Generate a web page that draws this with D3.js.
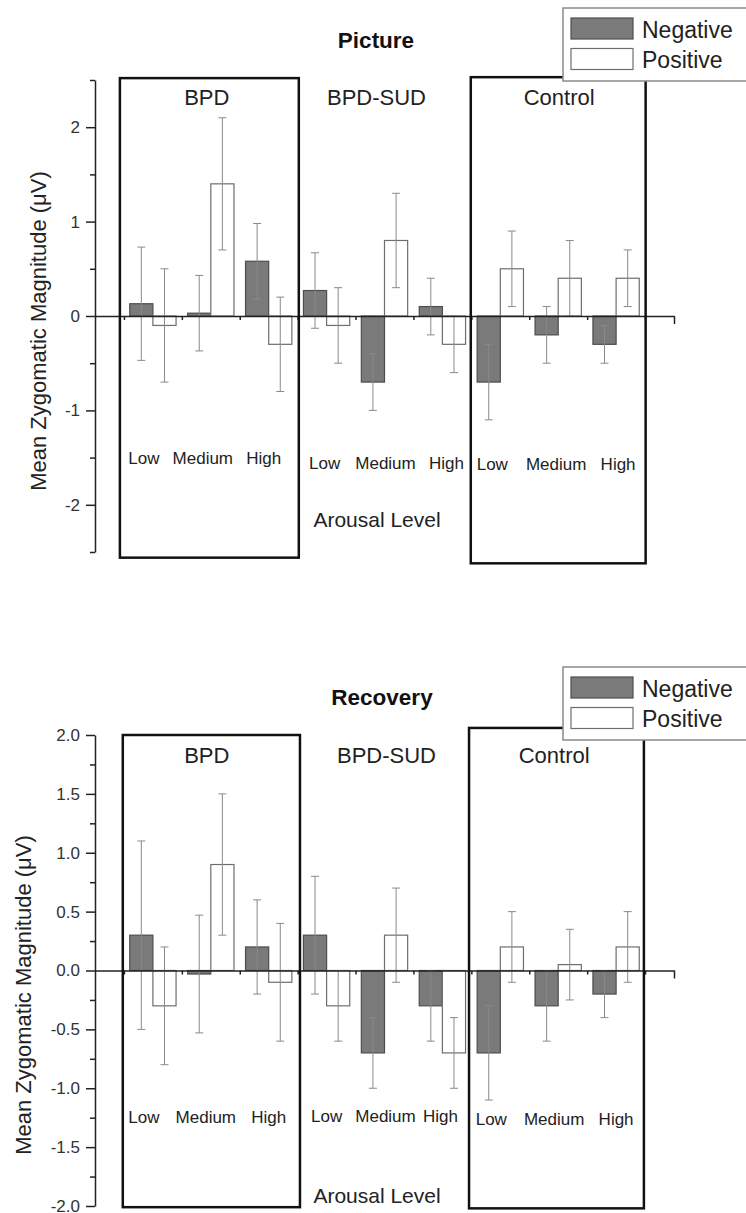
<!DOCTYPE html>
<html>
<head>
<meta charset="utf-8">
<script src="https://cdn.jsdelivr.net/npm/d3@7"></script>
<style>
  body { margin: 0; background: #fff; }
  svg { display: block; font-family: "Liberation Sans", Arial, sans-serif; }
</style>
</head>
<body>
<svg width="746" height="1213"></svg>
<script>
const groups = ['BPD', 'BPD-SUD', 'Control']
const levels = ['Low', 'Medium', 'High']
const seriesNames = ['Negative', 'Positive']

// 9 values each: BPD low/med/high, BPD-SUD low/med/high, Control low/med/high
const pictureNeg = [0.13, 0.03, 0.58, 0.27, -0.70, 0.10, -0.70, -0.20, -0.30]
const picturePos = [-0.10, 1.40, -0.30, -0.10, 0.80, -0.30, 0.50, 0.40, 0.40]
const pictureNegErr = [0.60, 0.40, 0.40, 0.40, 0.30, 0.30, 0.40, 0.30, 0.20]
const picturePosErr = [0.60, 0.70, 0.50, 0.40, 0.50, 0.30, 0.40, 0.40, 0.30]

const recoveryNeg = [0.30, -0.03, 0.20, 0.30, -0.70, -0.30, -0.70, -0.30, -0.20]
const recoveryPos = [-0.30, 0.90, -0.10, -0.30, 0.30, -0.70, 0.20, 0.05, 0.20]
const recoveryNegErr = [0.80, 0.50, 0.40, 0.50, 0.30, 0.30, 0.40, 0.30, 0.20]
const recoveryPosErr = [0.50, 0.60, 0.50, 0.30, 0.40, 0.30, 0.30, 0.30, 0.30]

const pictureTicks = [-2, -1, 0, 1, 2]
const pictureMinor = [-2.5, -1.5, -0.5, 0.5, 1.5, 2.5]
const recoveryTicks = [-2, -1.5, -1, -0.5, 0, 0.5, 1, 1.5, 2]
const recoveryMinor = [-1.75, -1.25, -0.75, -0.25, 0.25, 0.75, 1.25, 1.75]

const svg = d3.select('svg')

const fill = d3.scaleOrdinal().domain(seriesNames).range(['#7a7a7a', '#ffffff'])
const edge = d3.scaleOrdinal().domain(seriesNames).range(['#4d4d4d', '#6e6e6e'])

// categories sit at 1..9, axis runs 0..10
const x = d3.scaleLinear().domain([0, 10]).range([95, 674])
const barW = 0.4

const panel = (opts) => {
    const y = d3.scaleLinear().domain(opts.domain).range(opts.range)
    const g = svg.append('g')

    const bars = []
    d3.range(9).forEach(i => {
        bars.push({ c: i + 1, s: 'Negative', v: opts.neg[i], e: opts.negErr[i] })
        bars.push({ c: i + 1, s: 'Positive', v: opts.pos[i], e: opts.posErr[i] })
    })
    const left = d => d.s === 'Negative' ? d.c - barW : d.c

    g.selectAll('rect.bar')
        .data(bars)
        .enter()
        .append('rect')
        .attr('class', 'bar')
        .attr('x', d => x(left(d)))
        .attr('width', x(barW) - x(0))
        .attr('y', d => y(Math.max(0, d.v)))
        .attr('height', d => Math.abs(y(d.v) - y(0)))
        .attr('fill', d => fill(d.s))
        .attr('stroke', d => edge(d.s))
        .attr('stroke-width', 1.2)

    // error bars
    const err = g.selectAll('g.err')
        .data(bars)
        .enter()
        .append('g')
        .attr('class', 'err')
        .attr('stroke', '#8a8a8a')
        .attr('stroke-width', 1)
    const cx = d => x(left(d) + barW / 2)
    err.append('line')
        .attr('x1', cx).attr('x2', cx)
        .attr('y1', d => y(d.v + d.e)).attr('y2', d => y(d.v - d.e))
    err.append('line')
        .attr('x1', d => cx(d) - 4).attr('x2', d => cx(d) + 4)
        .attr('y1', d => y(d.v + d.e)).attr('y2', d => y(d.v + d.e))
    err.append('line')
        .attr('x1', d => cx(d) - 4).attr('x2', d => cx(d) + 4)
        .attr('y1', d => y(d.v - d.e)).attr('y2', d => y(d.v - d.e))

    // y axis, major + minor
    const yAxis = g.append('g')
        .attr('transform', `translate(${x(0)},0)`)
        .call(d3.axisLeft(y).tickValues(opts.ticks).tickSize(9).tickPadding(6)
            .tickSizeOuter(0).tickFormat(opts.fmt))
    yAxis.selectAll('text').attr('font-size', 17).attr('fill', '#333')
        .style('font-family', '"Liberation Sans", Arial, sans-serif')
    const yMinor = g.append('g')
        .attr('transform', `translate(${x(0)},0)`)
        .call(d3.axisLeft(y).tickValues(opts.minor).tickSize(5).tickSizeOuter(0).tickFormat(''))
    yMinor.select('.domain').remove()

    // zero line with category ticks
    const zero = g.append('g')
        .attr('transform', `translate(0,${y(0)})`)
        .call(d3.axisBottom(x).tickValues(d3.range(0.5, 10, 1)).tickSize(4)
            .tickSizeOuter(0).tickFormat(''))
    const endTick = g.append('g')
        .attr('transform', `translate(0,${y(0)})`)
        .call(d3.axisBottom(x).tickValues([10]).tickSize(8).tickFormat(''))
    endTick.select('.domain').remove()

    g.selectAll('.domain, .tick line').attr('stroke', '#222').attr('stroke-width', 1.5)

    // group boxes
    g.selectAll('rect.box')
        .data(opts.boxes)
        .enter()
        .append('rect')
        .attr('class', 'box')
        .attr('x', d => x(d.x0))
        .attr('y', d => y(d.y0))
        .attr('width', d => x(d.x1) - x(d.x0))
        .attr('height', d => y(d.y1) - y(d.y0))
        .attr('fill', 'none')
        .attr('stroke', '#111')
        .attr('stroke-width', 2.5)

    // group names
    g.selectAll('text.group')
        .data(groups)
        .enter()
        .append('text')
        .attr('class', 'group')
        .attr('x', (d, i) => x(i * 3 + 2) + opts.groupDx[i])
        .attr('y', opts.groupY)
        .attr('text-anchor', 'middle')
        .attr('font-size', 22)
        .attr('fill', '#222')
        .text(d => d)

    // arousal level labels
    g.selectAll('text.level')
        .data(d3.range(9))
        .enter()
        .append('text')
        .attr('class', 'level')
        .attr('x', i => x(i + 1) + opts.levelDx[i])
        .attr('y', i => opts.levelY[Math.floor(i / 3)])
        .attr('text-anchor', 'middle')
        .attr('font-size', 17)
        .attr('fill', '#222')
        .text(i => levels[i % 3])

    g.append('text')
        .attr('x', 377)
        .attr('y', opts.arousalY)
        .attr('text-anchor', 'middle')
        .attr('font-size', 21)
        .attr('fill', '#222')
        .text('Arousal Level')

    g.append('text')
        .attr('transform', `translate(${opts.yLabelX},${opts.yLabelY}) rotate(-90)`)
        .attr('text-anchor', 'middle')
        .attr('font-size', 22)
        .attr('fill', '#222')
        .text('Mean Zygomatic Magnitude (\u03bcV)')

    g.append('text')
        .attr('x', opts.titleX)
        .attr('y', opts.titleY)
        .attr('text-anchor', 'middle')
        .attr('font-size', 22.5)
        .attr('font-weight', 'bold')
        .attr('fill', '#111')
        .text(opts.title)

    // legend
    const lg = g.append('g').attr('transform', `translate(563,${opts.legendY})`)
    lg.append('rect')
        .attr('width', 200).attr('height', 73)
        .attr('fill', '#fff').attr('stroke', '#8a8a8a').attr('stroke-width', 1.5)
    const item = lg.selectAll('g.item')
        .data(seriesNames)
        .enter()
        .append('g')
        .attr('class', 'item')
        .attr('transform', (d, i) => `translate(8,${10 + i * 30.5})`)
    item.append('rect')
        .attr('width', 62).attr('height', 21)
        .attr('fill', d => fill(d))
        .attr('stroke', d => edge(d))
        .attr('stroke-width', 1.2)
    item.append('text')
        .attr('x', 71)
        .attr('y', 11.5)
        .attr('dominant-baseline', 'central')
        .attr('font-size', 23)
        .attr('fill', '#222')
        .text(d => d)
}

panel({
    title: 'Picture', titleX: 376, titleY: 48,
    domain: [-2.5, 2.5], range: [552, 80],
    ticks: pictureTicks, minor: pictureMinor, fmt: d => String(d),
    neg: pictureNeg, pos: picturePos, negErr: pictureNegErr, posErr: picturePosErr,
    boxes: [{ x0: 0.43, x1: 3.52, y0: 2.52, y1: -2.56 }, { x0: 6.49, x1: 9.51, y0: 2.53, y1: -2.62 }],
    groupY: 105, groupDx: [-4, -8, 1],
    levelY: [464, 469, 470], levelDx: [-9, -8, -5, -2, 1, 4, -8, -2, 2],
    arousalY: 527, yLabelX: 46, yLabelY: 331, legendY: 8
})

panel({
    title: 'Recovery', titleX: 382, titleY: 705,
    domain: [-2, 2], range: [1206, 735],
    ticks: recoveryTicks, minor: recoveryMinor, fmt: d => d.toFixed(1),
    neg: recoveryNeg, pos: recoveryPos, negErr: recoveryNegErr, posErr: recoveryPosErr,
    boxes: [{ x0: 0.48, x1: 3.54, y0: 2.0, y1: -2.01 }, { x0: 6.46, x1: 9.48, y0: 2.06, y1: -2.02 }],
    groupY: 763, groupDx: [-4, 2, -4],
    levelY: [1123, 1122, 1125], levelDx: [-9, -5, 0, 0, 1, -2, -9, -4, 0],
    arousalY: 1203, yLabelX: 31, yLabelY: 995, legendY: 667
})
</script>
</body>
</html>
